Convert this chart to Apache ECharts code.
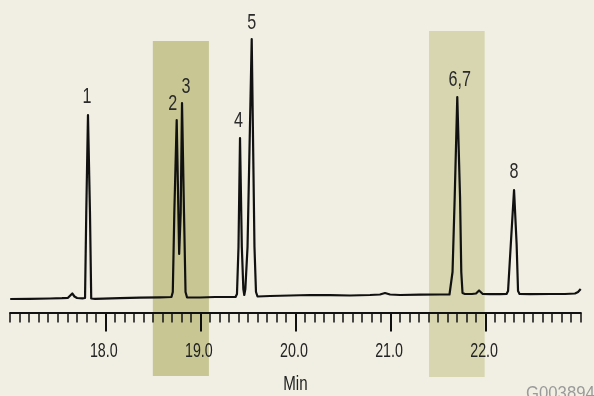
<!DOCTYPE html>
<html>
<head>
<meta charset="utf-8">
<style>
  html, body { margin: 0; padding: 0; background: #f1efe3; }
  #chart { width: 594px; height: 396px; }
</style>
<script src="https://cdn.jsdelivr.net/npm/echarts@6/dist/echarts.min.js"></script>
</head>
<body>
<div id="chart"></div>
<script>
// Retention time (min) of trace vertices
const times = [17.000, 17.208, 17.419, 17.545, 17.608, 17.629, 17.653, 17.676, 17.703, 17.760,
  17.787, 17.800, 17.818, 17.839, 17.852, 17.892, 18.155, 18.365, 18.576, 18.696,
  18.710, 18.726, 18.751, 18.777, 18.793, 18.807, 18.828, 18.844, 18.860, 18.996,
  19.154, 19.291, 19.370, 19.385, 19.401, 19.417, 19.436, 19.452, 19.462, 19.473,
  19.496, 19.540, 19.569, 19.585, 19.601, 19.733, 19.943, 20.153, 20.364, 20.574,
  20.784, 20.889, 20.942, 20.995, 21.100, 21.310, 21.520, 21.620, 21.636, 21.652,
  21.675, 21.702, 21.731, 21.744, 21.757, 21.783, 21.857, 21.899, 21.931, 21.970,
  22.046, 22.151, 22.220, 22.236, 22.265, 22.299, 22.326, 22.341, 22.357, 22.467,
  22.677, 22.835, 22.940, 22.972, 23.000];
// Detector response (arbitrary units) at those times
const signal = [-2, -1.8, -1.5, -1.2, -0.8, 1, 3.5, 0.5, -1, -1.3,
  -1, 84, 182, 84, -1.5, -1.8, -1.2, -0.7, -0.3, 0,
  5, 84, 177, 43, 84, 194, 84, 5, -0.5, -0.5,
  0, 0, 0, 3, 50, 159, 50, 8, 2, 8,
  50, 258, 50, 5, 0.5, 1, 1.5, 2, 1.8, 1.5,
  2, 2.5, 4, 2.5, 2, 2.3, 2.5, 2.5, 4, 25,
  100, 200, 100, 25, 4, 3, 3, 3.5, 6.5, 3,
  2.8, 2.8, 3, 6, 53, 107, 53, 6, 3, 2.8,
  3, 3, 3.5, 5, 8];

// Peak annotations
const peakNames = ['1', '2', '3', '4', '5', '6,7', '8'];
const peakTimes = [17.818, 18.751, 18.807, 19.417, 19.540, 21.702, 22.299];
const peakHeights = [182, 177, 194, 159, 258, 200, 107];

// Highlighted windows (min)
const bandStarts = [18.50, 21.405];
const bandEnds = [19.09, 21.99];
const bandTops = [256, 266];
const bandBottoms = [-79, -80];

// Axis ticks and texts
const majorTicks = [18, 19, 20, 21, 22];
const tickLabels = ['18.0', '19.0', '20.0', '21.0', '22.0'];
const endTicks = [17, 23];
const axisName = 'Min';
const figureCode = 'G003894';

const FONT = "'Liberation Sans', Arial, sans-serif";
const labelOffsets = [[-1, -18], [-4, -16], [4, -16], [-1.5, -16.5], [0, -15.5], [2.5, -17], [0, -17.5]];
const bandColors = ['#c8c794', '#d7d6b1'];

const chart = echarts.init(document.getElementById('chart'), null, { renderer: 'canvas' });

const option = {
  animation: false,
  backgroundColor: '#f1efe3',
  grid: { left: 10.2, right: 13.3, top: 20, bottom: 83.5 },
  xAxis: [{
    type: 'value', min: 17, max: 23, interval: 1, z: 3,
    axisLine: { show: true, onZero: false, lineStyle: { color: '#111', width: 2 } },
    axisTick: { show: true, customValues: majorTicks, length: 19, lineStyle: { color: '#111', width: 2 } },
    minorTick: { show: true, splitNumber: 10, length: 10, lineStyle: { color: '#111', width: 1.5 } },
    axisLabel: { show: false },
    splitLine: { show: false }
  }, {
    type: 'value', min: 17, max: 23, interval: 1, position: 'bottom', z: 3,
    axisLine: { show: false, onZero: false },
    axisTick: { show: true, customValues: endTicks, length: 10, lineStyle: { color: '#111', width: 1.5 } },
    axisLabel: { show: false },
    splitLine: { show: false }
  }],
  yAxis: { type: 'value', min: -15.5, max: 277, show: false, splitLine: { show: false } },
  series: [{
    type: 'line',
    data: times.map((t, i) => [t, signal[i]]),
    showSymbol: false, symbol: 'none', smooth: false, clip: false, z: 5,
    lineStyle: { color: '#111', width: 2.2, join: 'round' }
  }]
};
chart.setOption(option);

const px = (x, y) => chart.convertToPixel({ gridIndex: 0 }, [x, y]);
const els = [];
bandStarts.forEach((s, i) => {
  const p1 = px(s, bandTops[i]);
  const p2 = px(bandEnds[i], bandBottoms[i]);
  els.push({ type: 'rect', z: -10, silent: true,
    shape: { x: p1[0], y: p1[1], width: p2[0] - p1[0], height: p2[1] - p1[1] },
    style: { fill: bandColors[i] } });
});
function label(text, x, y, size, sx, color, align) {
  els.push({ type: 'text', x: x, y: y, scaleX: sx, z: 10, silent: true,
    style: { text: text, x: 0, y: 0, fill: color, font: size + 'px ' + FONT,
      align: align || 'center', verticalAlign: 'middle' } });
}
const axisY = px(17, -15.5)[1];
majorTicks.forEach((v, i) => {
  label(tickLabels[i], px(v, 0)[0] - 1.5, axisY + 38.5, 21, 0.68, '#222');
});
label(axisName, (px(17, 0)[0] + px(23, 0)[0]) / 2, axisY + 71.5, 21, 0.72, '#222');
peakNames.forEach((n, i) => {
  const p = px(peakTimes[i], peakHeights[i]);
  label(n, p[0] + labelOffsets[i][0], p[1] + labelOffsets[i][1], 21.5, 0.75, '#2a2a2a');
});
label(figureCode, 526, 394, 19, 0.88, '#9a9a9a', 'left');
chart.setOption({ graphic: { elements: els } });
</script>
</body>
</html>
